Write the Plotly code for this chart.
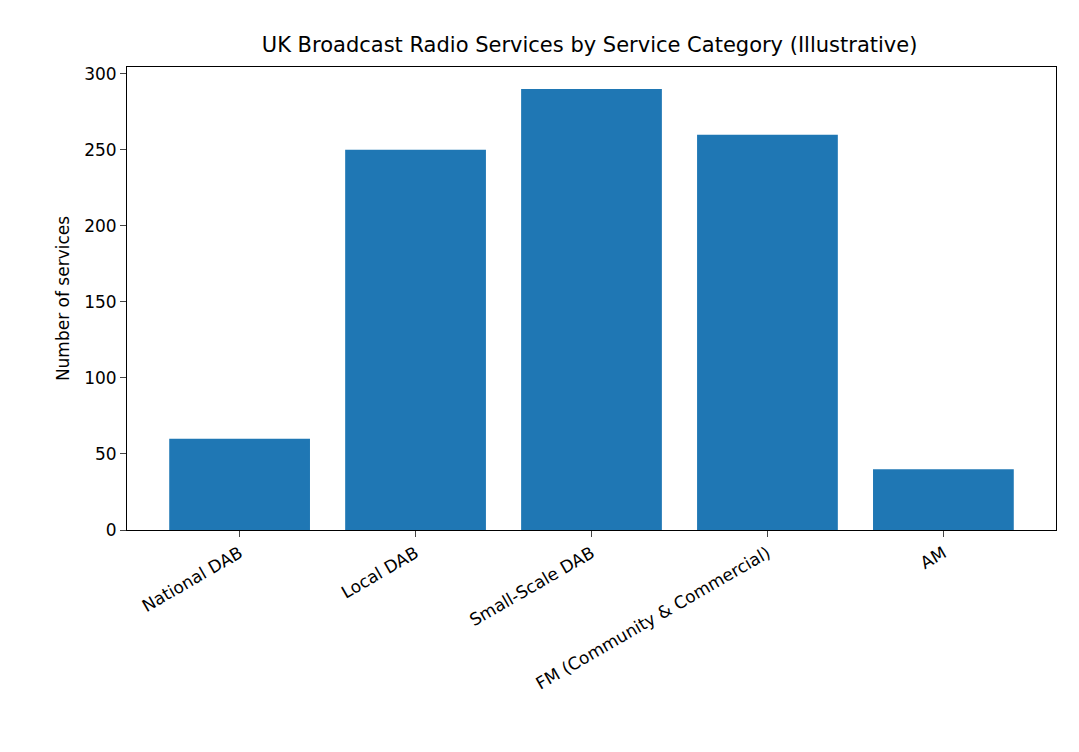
import plotly.graph_objects as go

categories = ["National DAB", "Local DAB", "Small-Scale DAB", "FM (Community & Commercial)", "AM"]
services = [60, 250, 290, 260, 40]

fig = go.Figure()
fig.add_trace(go.Bar(x=list(range(len(categories))), y=services, width=0.8,
                     marker=dict(color="#1f77b4", line=dict(width=0))))

fig.update_layout(
    width=1079, height=752,
    paper_bgcolor="white", plot_bgcolor="white",
    font=dict(family="DejaVu Sans", size=17, color="black"),
    title=dict(text="UK Broadcast Radio Services by Service Category (Illustrative)",
               x=0.539, xanchor="center", y=0.951, yanchor="middle", font=dict(size=21)),
    margin=dict(l=119, r=31, t=59, b=230),
    showlegend=False,
    xaxis=dict(range=[-0.64, 4.64], tickmode="array", tickvals=list(range(len(categories))),
               ticktext=categories, tickangle=-30, ticks="outside", ticklen=6,
               showline=True, linecolor="black", mirror=True, showgrid=False, zeroline=False),
    yaxis=dict(range=[0, 304.5], title=dict(text="Number of services", standoff=10, font=dict(size=17)),
               tickvals=[0, 50, 100, 150, 200, 250, 300], ticks="outside", ticklen=6,
               showline=True, linecolor="black", mirror=True, showgrid=False, zeroline=False),
)

fig.write_html("out.html")
